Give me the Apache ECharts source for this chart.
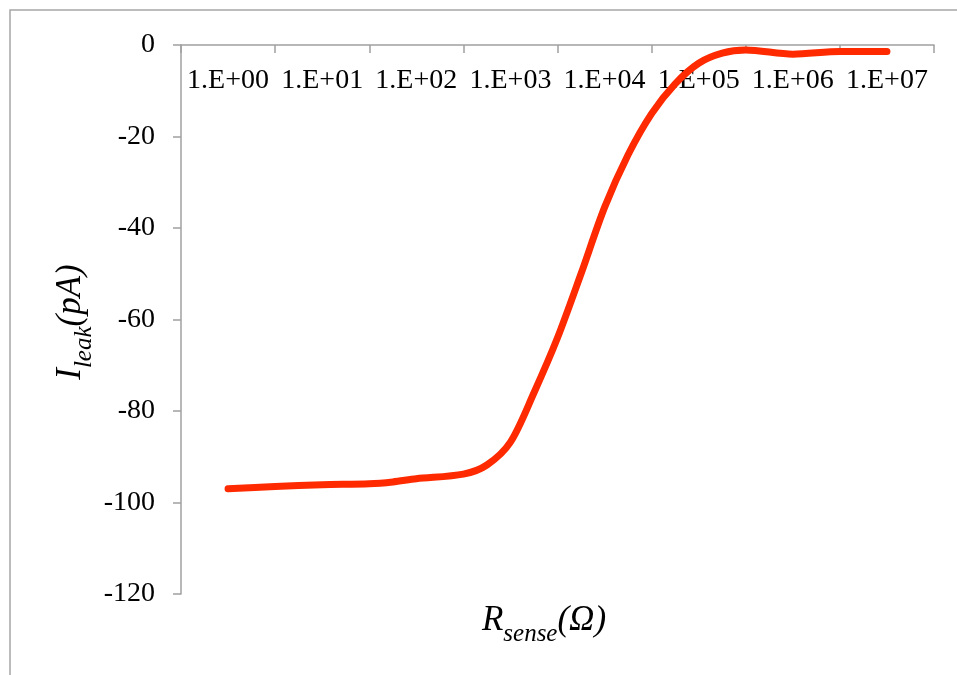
<!DOCTYPE html>
<html>
<head>
<meta charset="utf-8">
<script src="https://cdn.jsdelivr.net/npm/echarts@6/dist/echarts.min.js"></script>
<style>
  html, body { margin: 0; padding: 0; background: #fff; }
  #chart { width: 957px; height: 675px; }
</style>
</head>
<body>
<div id="chart"></div>
<script>
// Decade labels along the resistance axis
const decadeLabels = ['1.E+00', '1.E+01', '1.E+02', '1.E+03', '1.E+04', '1.E+05', '1.E+06', '1.E+07'];

// Sense resistance as log10(R) and the measured leakage current (pA)
const logR = [0, 0.5, 1, 1.5, 1.75, 2, 2.5, 2.75, 3, 3.25, 3.5, 3.75, 4, 4.25, 4.5, 4.75, 5, 5.25, 5.5, 6, 6.5, 7];
const leakPA = [-97.0, -96.5, -96.1, -95.9, -95.5, -94.8, -93.8, -91.8, -86.8, -76.0, -64.0, -50.0, -35.5, -24.0, -15.0, -8.5, -4.0, -1.8, -1.1, -2.0, -1.4, -1.4];

// Current axis ticks
const yMin = -120, yMax = 0, yStep = 20;

const serif = '"Liberation Serif", "DejaVu Serif", serif';
const axisGray = '#a0a0a0';

const chart = echarts.init(document.getElementById('chart'), null, { renderer: 'canvas' });

chart.setOption({
  animation: false,
  backgroundColor: '#ffffff',
  grid: { left: 181, top: 45, right: 23, bottom: 81, containLabel: false },
  xAxis: [
    {
      type: 'category',
      position: 'top',
      data: decadeLabels,
      boundaryGap: true,
      axisLine: { show: true, onZero: false, lineStyle: { color: axisGray, width: 1.5 } },
      axisTick: { show: true, inside: true, length: 8, alignWithLabel: false, lineStyle: { color: axisGray, width: 1.5 } },
      axisLabel: { inside: true, margin: 22, color: '#000', fontFamily: serif, fontSize: 28, interval: 0 },
      splitLine: { show: false }
    },
    {
      type: 'value',
      position: 'top',
      min: -0.5,
      max: 7.5,
      show: false
    }
  ],
  yAxis: {
    type: 'value',
    min: yMin,
    max: yMax,
    interval: yStep,
    axisLine: { show: true, onZero: false, lineStyle: { color: axisGray, width: 1.5 } },
    axisTick: { show: true, length: 8, lineStyle: { color: axisGray, width: 1.5 } },
    axisLabel: { margin: 26, color: '#000', fontFamily: serif, fontSize: 28 },
    splitLine: { show: false }
  },
  series: [
    {
      type: 'line',
      xAxisIndex: 1,
      data: logR.map((x, i) => [x, leakPA[i]]),
      smooth: 0.3,
      showSymbol: false,
      lineStyle: { color: '#ff2a00', width: 7, cap: 'round', join: 'round' }
    }
  ],
  graphic: [
    {
      type: 'rect',
      shape: { x: 10, y: 10, width: 980, height: 700 },
      style: { fill: 'none', stroke: '#a6a6a6', lineWidth: 1.5 },
      silent: true,
      z: -1
    },
    {
      type: 'text',
      x: 544,
      y: 625,
      style: {
        text: '{m|R}{s|sense}{m|(Ω)}',
        align: 'center',
        verticalAlign: 'middle',
        rich: {
          m: { fontFamily: serif, fontStyle: 'italic', fontSize: 35, fill: '#000', padding: [0, 0, 8, 0], verticalAlign: 'bottom' },
          s: { fontFamily: serif, fontStyle: 'italic', fontSize: 25, fill: '#000', verticalAlign: 'bottom' }
        }
      }
    },
    {
      type: 'text',
      x: 75,
      y: 322,
      rotation: Math.PI / 2,
      style: {
        text: '{m|I}{s|leak}{m|(pA)}',
        align: 'center',
        verticalAlign: 'middle',
        rich: {
          m: { fontFamily: serif, fontStyle: 'italic', fontSize: 35, fill: '#000', padding: [0, 0, 8, 0], verticalAlign: 'bottom' },
          s: { fontFamily: serif, fontStyle: 'italic', fontSize: 25, fill: '#000', verticalAlign: 'bottom' }
        }
      }
    }
  ]
});
</script>
</body>
</html>
